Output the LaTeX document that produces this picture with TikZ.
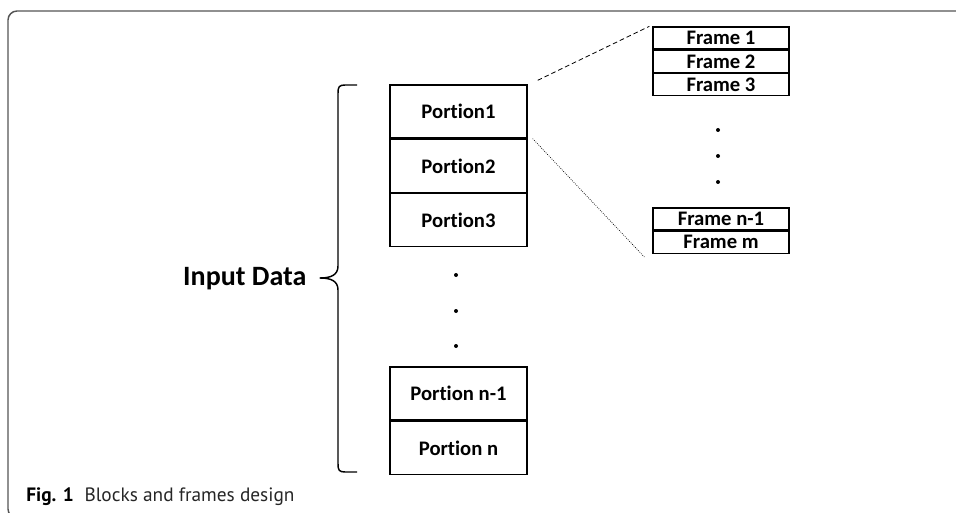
\documentclass[tikz,border=0pt]{standalone}
\usepackage{fontspec}
\setmainfont[Ligatures=NoCommon]{Carlito}
\newfontfamily\capfont{PT Sans}
\usetikzlibrary{calc}
\definecolor{panelgray}{HTML}{555555}
\tikzset{
  portionbox/.style={draw, line width=1pt, rectangle, minimum width=137*0.75pt,
    minimum height=53*0.75pt, inner sep=0pt, font=\fontsize{15.5}{18}\selectfont\bfseries},
  framebox/.style={draw, line width=1pt, rectangle, minimum width=136*0.75pt,
    minimum height=22*0.75pt, inner sep=0pt, font=\fontsize{15.5}{17}\selectfont\bfseries},
  vdot/.style={circle, fill=black, inner sep=0pt, minimum size=4*0.75pt},
}
\begin{document}
\begin{tikzpicture}[x=0.75pt, y=-0.75pt]
\useasboundingbox (0,0) rectangle (956,513);
% panel outline: only the top and left edges fall inside the page
\begin{scope}
  \clip (0,0) rectangle (956,513);
  \draw[panelgray, line width=1.1pt, rounded corners=9*0.75pt] (970,11) -- (8,11) -- (8,518) -- (30,518);
\end{scope}

% portions of the input data
\node[portionbox] (p1) at (458.5,111.5) {Portion1};
\node[portionbox, anchor=north] (p2) at (p1.south) {Portion2};
\node[portionbox, anchor=north] (p3) at (p2.south) {Portion3};
\node[portionbox] (pn1) at (458.5,393.5) {Portion n-1};
\node[portionbox, anchor=north] (pn) at (pn1.south) {Portion n};

\node[vdot] (d1) at (456,275) {};
\node[vdot] (d2) at (456,311) {};
\node[vdot] (d3) at (456,346) {};

% frames of one portion
\node[framebox] (f1) at (721,38) {Frame 1};
\node[framebox, anchor=north] (f2) at (f1.south) {Frame 2};
\node[framebox, anchor=north] (f3) at (f2.south) {Frame 3};
\node[framebox] (fn1) at (721,219) {Frame n-1};
\node[framebox, anchor=north] (fm) at (fn1.south) {Frame m};

\node[vdot] (e1) at (718,130) {};
\node[vdot] (e2) at (718,156) {};
\node[vdot] (e3) at (718,182) {};

% zoom lines from Portion1 to its frames
\coordinate (za) at ($(p1.north east)+(10*0.75pt,4*0.75pt)$);
\coordinate (zb) at ($(f1.north west)+(-3*0.75pt,0)$);
\coordinate (zc) at ($(p1.south east)+(5*0.75pt,0)$);
\coordinate (zd) at ($(fm.south west)+(-8*0.75pt,-3*0.75pt)$);
\draw[line width=0.6pt, dash pattern=on 3.5pt off 2.2pt] (za) -- (zb);
\draw[line width=0.5pt, dash pattern=on 0.6pt off 1pt] (zc) -- (zd);

% brace gathering all portions
\node[anchor=east, font=\fontsize{21}{24}\selectfont\bfseries] (input) at (311,279) {Input Data};
\draw[line width=1.1pt, line join=round]
  (357,85) -- (345,85) .. controls (339,85) and (338,87) .. (338,93)
  -- (338,266) .. controls (338,275) and (331,278) .. (320,278)
  .. controls (331,278) and (338,281) .. (338,290)
  -- (338,464) .. controls (338,470) and (339,472) .. (345,472) -- (357,472);

% caption
\node[anchor=base west, inner sep=0pt, font=\capfont\fontsize{14.5}{17}\selectfont] (cap) at (26,501)
  {\textbf{Fig. 1}\hspace{8pt}\textcolor{black!85}{Blocks and frames design}};
\end{tikzpicture}
\end{document}
